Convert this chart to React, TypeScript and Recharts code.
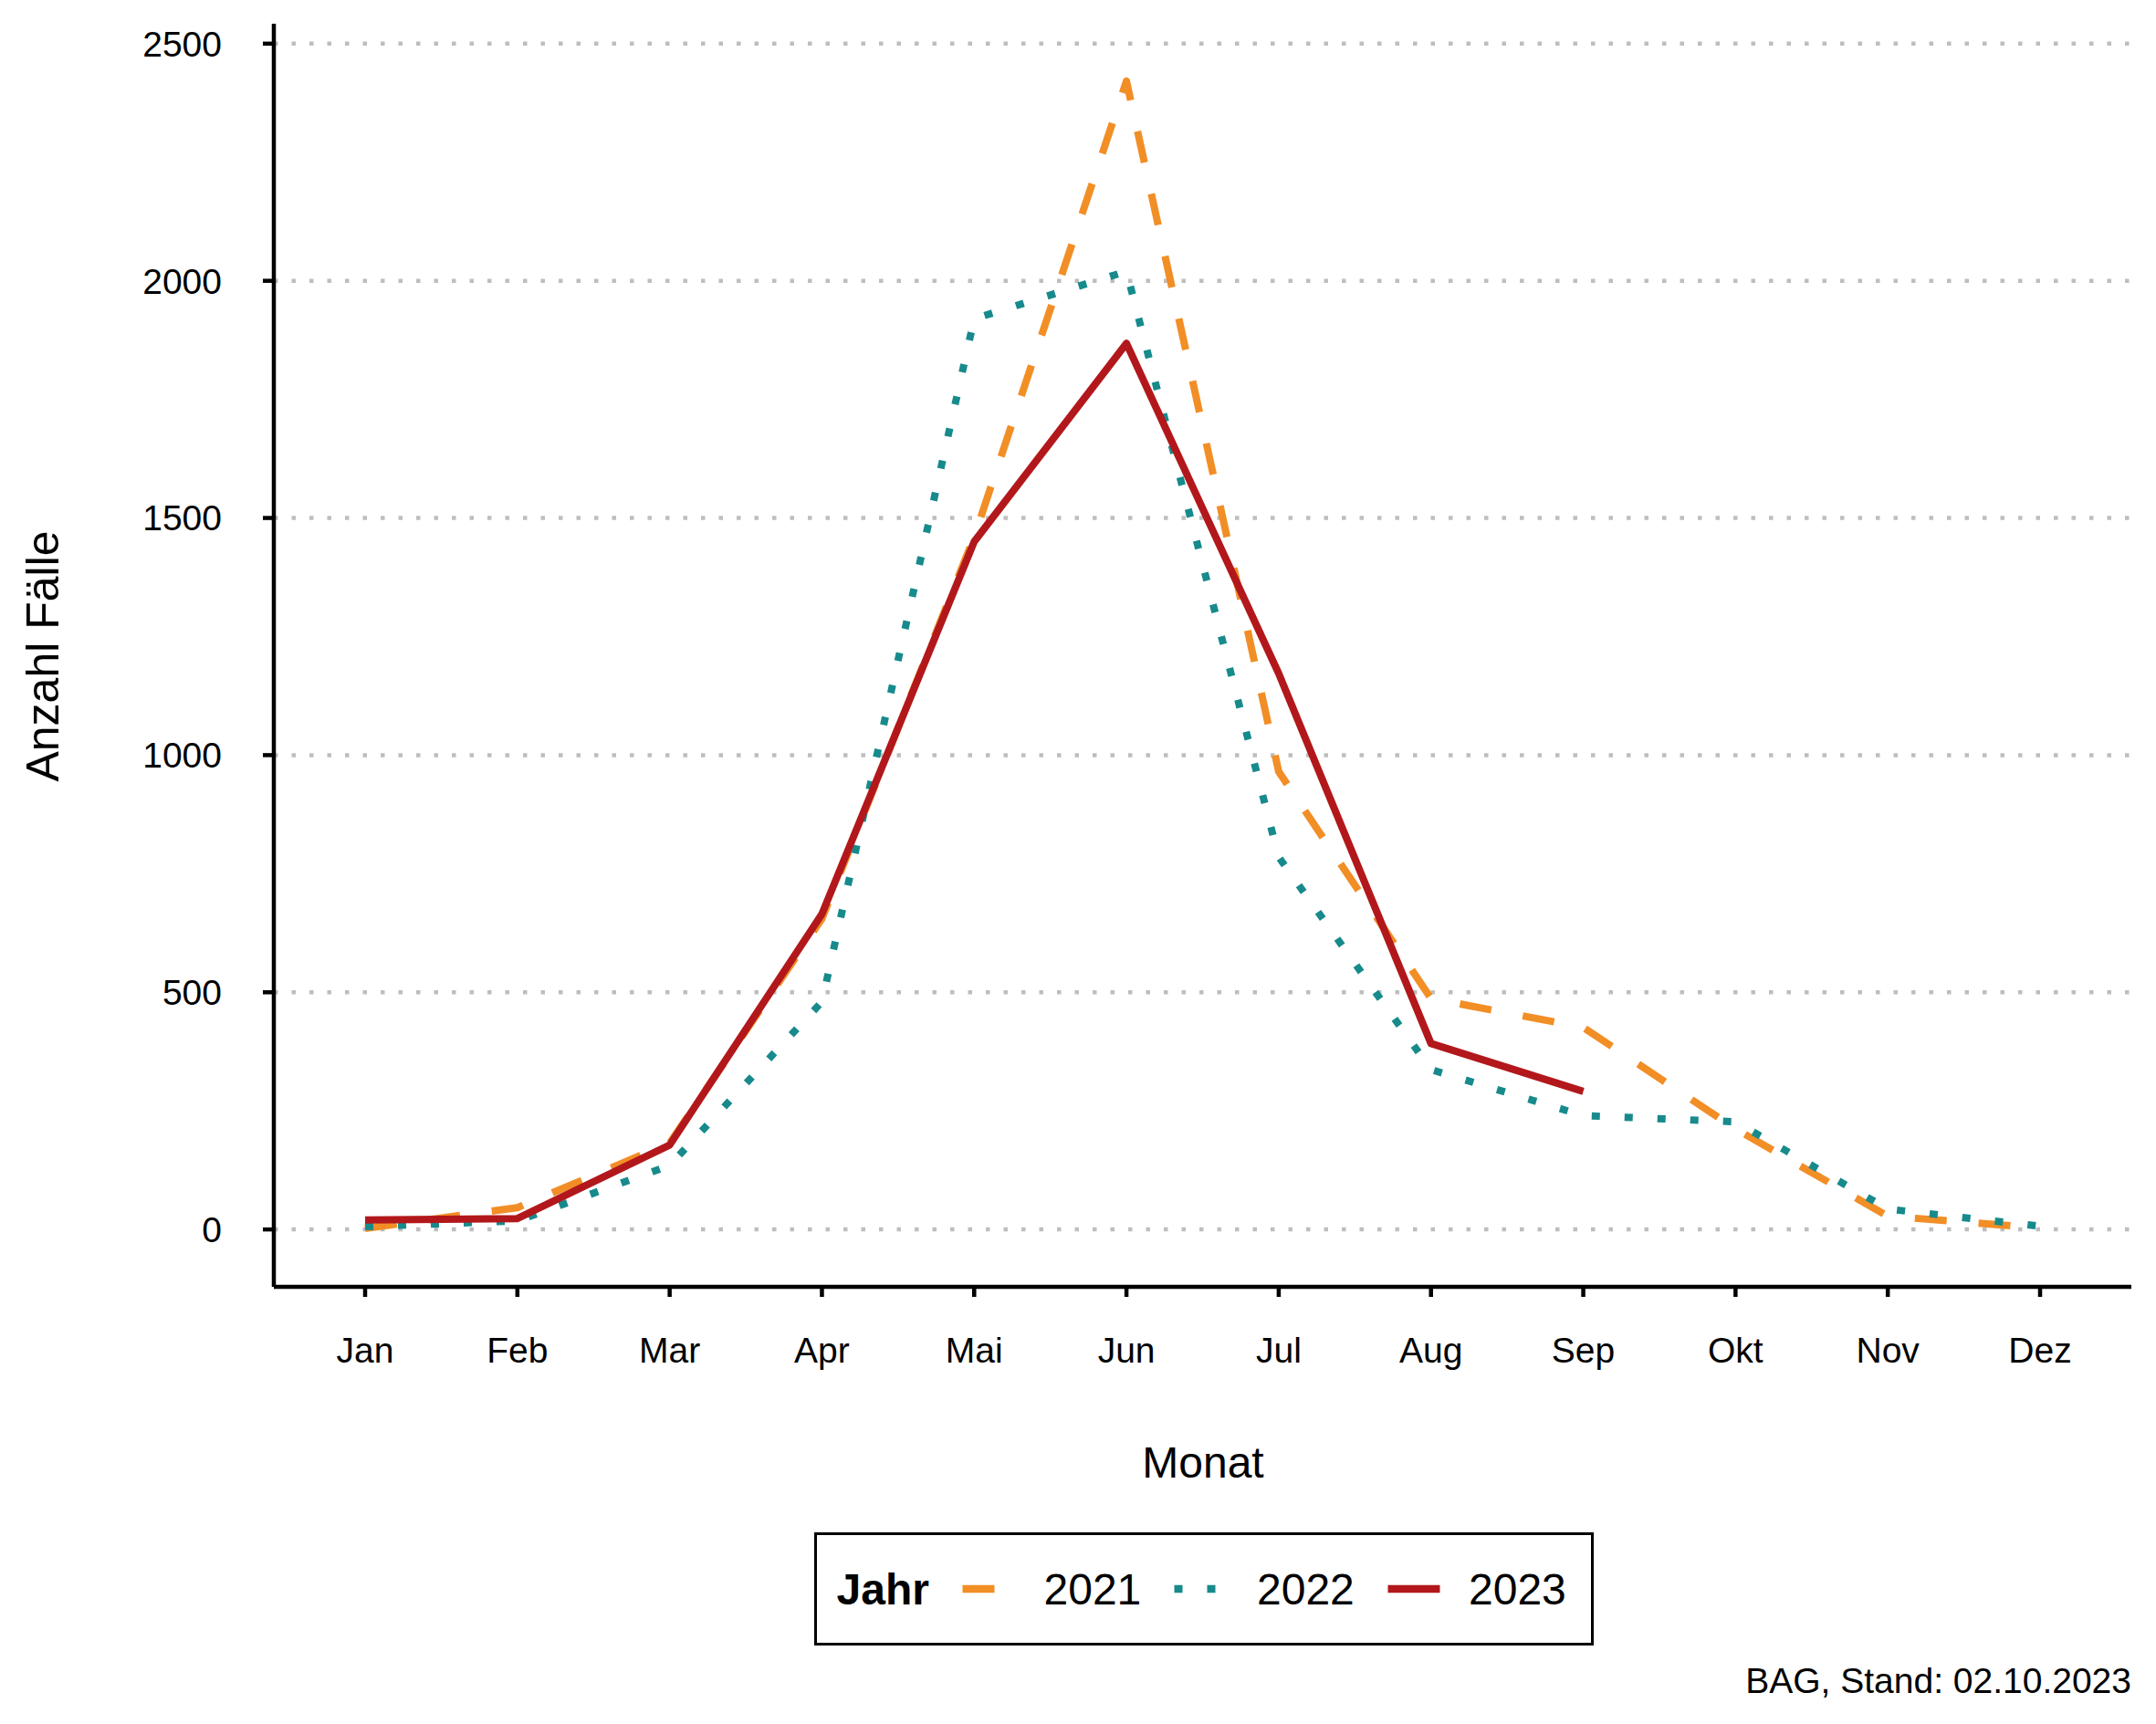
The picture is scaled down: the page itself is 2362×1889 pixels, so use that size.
import React from 'react';
import { LineChart, Line, XAxis, YAxis, ReferenceLine, Legend } from 'recharts';

const months = ['Jan', 'Feb', 'Mar', 'Apr', 'Mai', 'Jun', 'Jul', 'Aug', 'Sep', 'Okt', 'Nov', 'Dez'];
const cases2021 = [2, 46, 182, 655, 1460, 2421, 965, 487, 426, 212, 28, 3];
const cases2022 = [6, 18, 135, 480, 1920, 2020, 785, 337, 240, 227, 43, 7];
const cases2023 = [20, 23, 178, 665, 1450, 1868, 1172, 392, 291];
const yTicks = [0, 500, 1000, 1500, 2000, 2500];
const seriesKeys = ['y2021', 'y2022', 'y2023'];
const seriesNames = ['2021', '2022', '2023'];

const COLORS = ['#F28E26', '#178A8C', '#B2181B'];
const DASHES = ['35 35', '9 27', undefined];
const FONT = '"Liberation Sans", Arial, sans-serif';

const data = months.map((m, i) => ({
  month: m,
  y2021: cases2021[i] ?? null,
  y2022: cases2022[i] ?? null,
  y2023: cases2023[i] ?? null,
}));

const LEG_KEY_X = [162.5, 394.5, 628.5];
const LEG_TEXT_X = [251.5, 485, 717];

const renderLegend = (props: any) => {
  const payload = props.payload || [];
  return (
    <svg width={854} height={124} style={{ display: 'block' }}>
      <rect x={1.5} y={1.5} width={851} height={121} fill="#fff" stroke="#000" strokeWidth={3} />
      <text x={24.5} y={79} fontFamily={FONT} fontSize={48} fontWeight="bold" fill="#000">Jahr</text>
      {payload.map((entry: any, i: number) => {
        const idx = seriesNames.indexOf(String(entry.value));
        const k = idx >= 0 ? idx : i;
        return (
          <g key={k}>
            <line
              x1={LEG_KEY_X[k]}
              x2={LEG_KEY_X[k] + 57}
              y1={62}
              y2={62}
              stroke={COLORS[k]}
              strokeWidth={8.5}
              strokeDasharray={DASHES[k]}
            />
            <text x={LEG_TEXT_X[k]} y={79} fontFamily={FONT} fontSize={48} fill="#000">{entry.value}</text>
          </g>
        );
      })}
    </svg>
  );
};

const YTitle = () => (
  <text
    x={64}
    y={719}
    transform="rotate(-90, 64, 719)"
    textAnchor="middle"
    fontFamily={FONT}
    fontSize={50}
    fill="#000"
  >
    Anzahl Fälle
  </text>
);

const XTitle = () => (
  <g>
    <text x={1318} y={1619} textAnchor="middle" fontFamily={FONT} fontSize={48} fill="#000">Monat</text>
    <text x={2335} y={1855} textAnchor="end" fontFamily={FONT} fontSize={39} fill="#000">BAG, Stand: 02.10.2023</text>
  </g>
);

export default function App() {
  return (
    <div style={{ position: 'absolute', left: 0, top: 0, width: 2362, height: 1889, background: '#fff' }}>
      <LineChart
        width={2362}
        height={1889}
        data={data}
        margin={{ top: 26, right: 27, left: 40, bottom: 379 }}
      >
        <XAxis
          dataKey="month"
          type="category"
          height={100}
          padding={{ left: 100, right: 100 }}
          tickSize={11}
          tickMargin={44}
          axisLine={{ stroke: '#000', strokeWidth: 4.5 }}
          tickLine={{ stroke: '#000', strokeWidth: 4.5 }}
          tick={{ fontSize: 39, fill: '#000', fontFamily: FONT }}
          interval={0}
          label={{ content: XTitle }}
        />
        <YAxis
          width={260}
          type="number"
          domain={[-121, 2542]}
          ticks={yTicks}
          allowDataOverflow={true}
          tickSize={12}
          tickMargin={45}
          axisLine={{ stroke: '#000', strokeWidth: 4.5 }}
          tickLine={{ stroke: '#000', strokeWidth: 4.5 }}
          tick={{ fontSize: 39, fill: '#000', fontFamily: FONT }}
          interval={0}
          label={{ content: YTitle }}
        />
        {yTicks.map((t) => (
          <ReferenceLine
            key={`grid-${t}`}
            y={t}
            stroke="#BEBEBE"
            strokeWidth={4.5}
            strokeDasharray="4.5 15"
            ifOverflow="extendDomain"
          />
        ))}
        <Legend
          layout="horizontal"
          verticalAlign="middle"
          align="center"
          content={renderLegend}
          wrapperStyle={{ position: 'absolute', left: 891.5, top: 1679, width: 854, height: 124 }}
        />
        {seriesKeys.map((key, i) => (
          <Line
            key={key}
            type="linear"
            dataKey={key}
            name={seriesNames[i]}
            stroke={COLORS[i]}
            strokeWidth={8}
            strokeDasharray={DASHES[i]}
            strokeLinejoin="round"
            dot={false}
            activeDot={false}
            connectNulls={false}
            isAnimationActive={false}
          />
        ))}
      </LineChart>
    </div>
  );
}
